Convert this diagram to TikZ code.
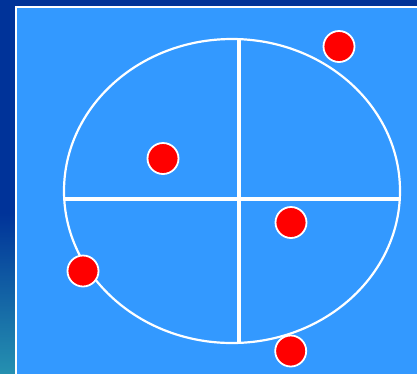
\documentclass[tikz,border=0pt]{standalone}
\definecolor{bgdark}{HTML}{003399}
\definecolor{bgteal}{HTML}{2590B0}
\definecolor{panel}{HTML}{3399FF}
\begin{document}
\begin{tikzpicture}[x=1pt,y=-1pt,
  dot/.style={circle,fill=red,draw=white,line width=1.8pt,minimum size=31pt,inner sep=0pt},
  divider/.style={draw=white,line width=3.2pt},
  rim/.style={draw=white,line width=2.2pt}]
\useasboundingbox (0,0) rectangle (417,373);
\fill[bgdark] (0,0) rectangle (417,373);
\shade[top color=bgdark,bottom color=bgteal] (0,213) rectangle (417,373);
\filldraw[fill=panel,draw=white,line width=2pt] (16,7) rectangle (425,385);
\draw[rim] (232,191) ellipse [x radius=168, y radius=152];
\draw[divider] (64.2,199) -- (399.8,199);
\draw[divider] (239,39.1) -- (239,342.9);
\node[dot] (d1) at (339,46.5) {};
\node[dot] (d2) at (163,158.5) {};
\node[dot] (d3) at (291,222.5) {};
\node[dot] (d4) at (83,271) {};
\node[dot] (d5) at (290.7,351) {};
\end{tikzpicture}
\end{document}
